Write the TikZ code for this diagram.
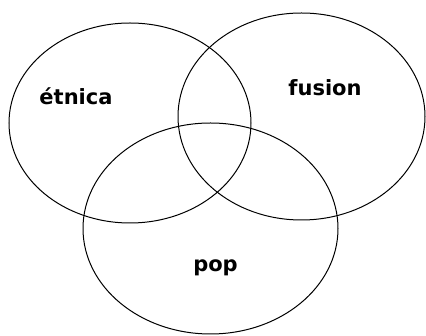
\documentclass[tikz,border=0pt]{standalone}
\usepackage{fontspec}
\setmainfont{DejaVu Sans}
\usetikzlibrary{shapes.geometric,positioning}

\begin{document}
\begin{tikzpicture}[
    x=1pt, y=-1pt,
    set/.style={ellipse, draw, line width=1pt, inner sep=0pt},
    label/.style={font=\bfseries\fontsize{21}{24}\selectfont, inner sep=0pt}
]
\useasboundingbox (0,0) rectangle (426,336);
\node[set, minimum width=242pt, minimum height=200pt] (etnica) at (130,123) {};
\node[set, minimum width=247pt, minimum height=207pt] (fusion) at (301.5,116.5) {};
\node[set, minimum width=255pt, minimum height=211pt] (pop) at (210.5,228.5) {};

\node[label] (etnicatext) at (76,96) {étnica};
\node[label] (fusiontext) at (325,88) {fusion};
\node[label] (poptext) at (215.5,268) {pop};
\end{tikzpicture}
\end{document}
